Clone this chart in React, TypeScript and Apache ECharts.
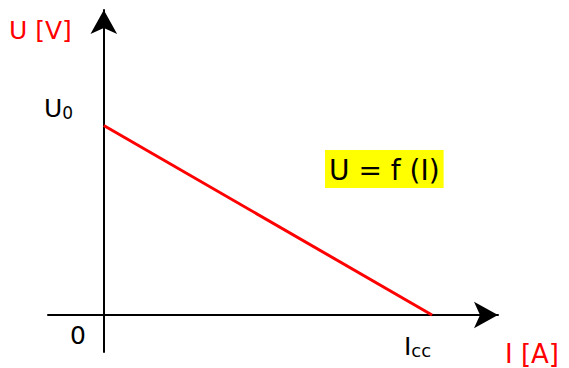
import React, { useEffect, useRef } from "react";
import * as echarts from "echarts";

const U0 = 10;
const Icc = 10;
const linePoints: [number, number][] = [
  [0, U0],
  [Icc, 0],
];
const xRange = [-1.7, 12.01];
const yRange = [-1.95, 16.09];
const FONT = "DejaVu Sans";

export default function App() {
  const ref = useRef<HTMLDivElement>(null);
  useEffect(() => {
    document.body.style.margin = "0";
    const chart = echarts.init(ref.current!, undefined, { renderer: "svg" });
    const axisCommon = {
      type: "value" as const,
      splitLine: { show: false },
      axisTick: { show: false },
      axisLabel: { show: false },
    };
    const txt = (size: number, color: string) => ({
      fontSize: size,
      fontFamily: FONT,
      fill: color,
    });
    chart.setOption({
      animation: false,
      backgroundColor: "#ffffff",
      grid: { left: 48, right: 71, top: 10, bottom: 16, outerBoundsMode: "none" },
      xAxis: {
        ...axisCommon,
        min: xRange[0],
        max: xRange[1],
        axisLine: {
          show: true,
          onZero: true,
          symbol: ["none", "arrow"],
          symbolSize: [20, 24],
          lineStyle: { color: "#000", width: 2 },
        },
      },
      yAxis: {
        ...axisCommon,
        min: yRange[0],
        max: yRange[1],
        axisLine: {
          show: true,
          onZero: true,
          symbol: ["none", "arrow"],
          symbolSize: [20, 24],
          lineStyle: { color: "#000", width: 2 },
        },
      },
      series: [
        {
          type: "line",
          data: linePoints,
          symbol: "none",
          lineStyle: { color: "#ff0000", width: 3 },
          z: 1,
        },
      ],
      graphic: [
        {
          type: "text",
          left: 9,
          top: 18,
          style: { text: "U [V]", ...txt(25, "#ff0000") },
        },
        {
          type: "text",
          left: 44,
          top: 96,
          style: {
            text: "{a|U}{s|0}",
            rich: {
              a: txt(25, "#000"),
              s: { ...txt(17, "#000"), padding: [8, 0, 0, 0] },
            },
          },
        },
        {
          type: "text",
          left: 70,
          top: 323,
          style: { text: "0", ...txt(25, "#000") },
        },
        {
          type: "text",
          left: 404,
          top: 334,
          style: {
            text: "{a|I}{s|cc}",
            rich: {
              a: txt(25, "#000"),
              s: { ...txt(18, "#000"), padding: [8, 0, 0, 0] },
            },
          },
        },
        {
          type: "text",
          left: 505,
          top: 341,
          style: { text: "I [A]", ...txt(26, "#ff0000") },
        },
        {
          type: "text",
          left: 325,
          top: 150,
          style: {
            text: "U = f (I)",
            ...txt(28, "#000"),
            backgroundColor: "#ffff00",
            padding: [6, 4, 4, 4],
          },
        },
      ],
    });
    return () => chart.dispose();
  }, []);
  return (
    <div
      ref={ref}
      style={{ position: "absolute", left: 0, top: 0, width: 569, height: 368 }}
    />
  );
}
